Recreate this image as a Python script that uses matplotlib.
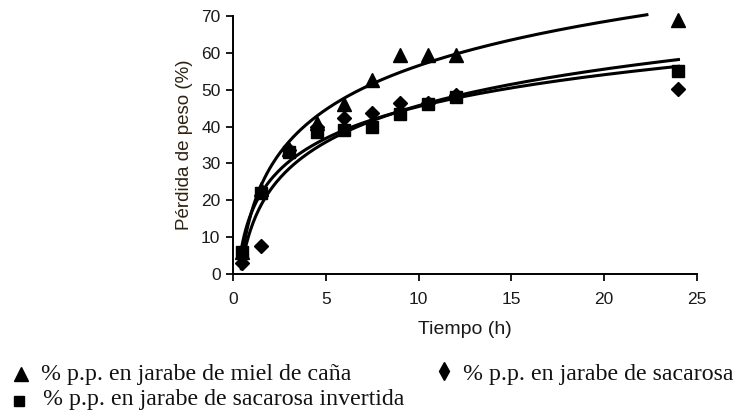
import numpy as np
import matplotlib
matplotlib.use("Agg")
import matplotlib.pyplot as plt
from matplotlib.lines import Line2D

# Data
tiempo = [0.5, 1.5, 3.0, 4.5, 6.0, 7.5, 9.0, 10.5, 12.0, 24.0]
miel_cana = [6, 23, 34, 41, 46, 52.6, 59.5, 59.5, 59.5, 69]
sacarosa = [3, 7.6, 33.6, 40, 42.2, 43.6, 46.3, 46.3, 48.5, 50.1]
sacarosa_inv = [6, 22, 33, 38.5, 39, 40, 43.5, 46, 48, 55]
labels = ["% p.p. en jarabe de miel de caña",
          "% p.p. en jarabe de sacarosa invertida",
          "% p.p. en jarabe de sacarosa"]
xticks = [0, 5, 10, 15, 20, 25]
yticks = [0, 10, 20, 30, 40, 50, 60, 70]

W, H = 738, 413
fig = plt.figure(figsize=(W / 100, H / 100), dpi=100)
ax = fig.add_axes([233 / W, 1 - 274 / H, (697 - 233) / W, (274 - 16) / H])

def log_fit(t, y, t_end):
    t = np.asarray(t, float); y = np.asarray(y, float)
    a, b = np.polyfit(np.log(t), y, 1)
    tt = np.linspace(0.45, t_end, 300)
    return tt, a * np.log(tt) + b

series = [(miel_cana, '^', 10, 22.3), (sacarosa_inv, 's', 8, 24.0), (sacarosa, 'D', 7, 24.0)]
for y, m, ms, tend in series:
    tt, yy = log_fit(tiempo, y, tend)
    ax.plot(tt, yy, color='black', lw=2.2, zorder=2, clip_on=False)
    ax.plot(tiempo, y, linestyle='none', marker=m, ms=ms, color='black', zorder=3, clip_on=False)

ax.set_xlim(0, 25)
ax.set_ylim(0, 70)
ax.set_xticks(xticks)
ax.set_yticks(yticks)
for s in ['top', 'right']:
    ax.spines[s].set_visible(False)
for s in ['left', 'bottom']:
    ax.spines[s].set_linewidth(1.4)
ax.tick_params(direction='out', length=5, width=1.4, labelsize=12.5, colors='#1a1a1a')
ax.tick_params(axis='x', pad=8)
ax.tick_params(axis='y', pad=4)
for lab in ax.get_xticklabels() + ax.get_yticklabels():
    lab.set_family('Liberation Sans')
ax.set_xlabel("Tiempo (h)", fontsize=14, family='Liberation Sans', color='#1a1a1a', labelpad=10)
ax.set_ylabel("Pérdida de peso (%)", fontsize=13.5, family='Liberation Sans', color='#2e2210', labelpad=6)

# Legend drawn manually below the chart
leg_font = {'family': 'Liberation Serif', 'size': 17.2, 'color': '#111111'}
fig.text(41 / W, 1 - 380 / H, labels[0], va='baseline', ha='left', **leg_font)
fig.text(43 / W, 1 - 405 / H, labels[1], va='baseline', ha='left', **leg_font)
fig.text(463 / W, 1 - 380 / H, labels[2], va='baseline', ha='left', **leg_font)
fig.add_artist(Line2D([20.8 / W], [1 - 374 / H], marker='^', ms=10, color='black', ls='none'))
fig.add_artist(Line2D([18.7 / W], [1 - 401 / H], marker='s', ms=7, color='black', ls='none'))
fig.add_artist(Line2D([443.5 / W], [1 - 371 / H], marker='d', ms=9, color='black', ls='none'))

fig.savefig("out.png", dpi=100)
